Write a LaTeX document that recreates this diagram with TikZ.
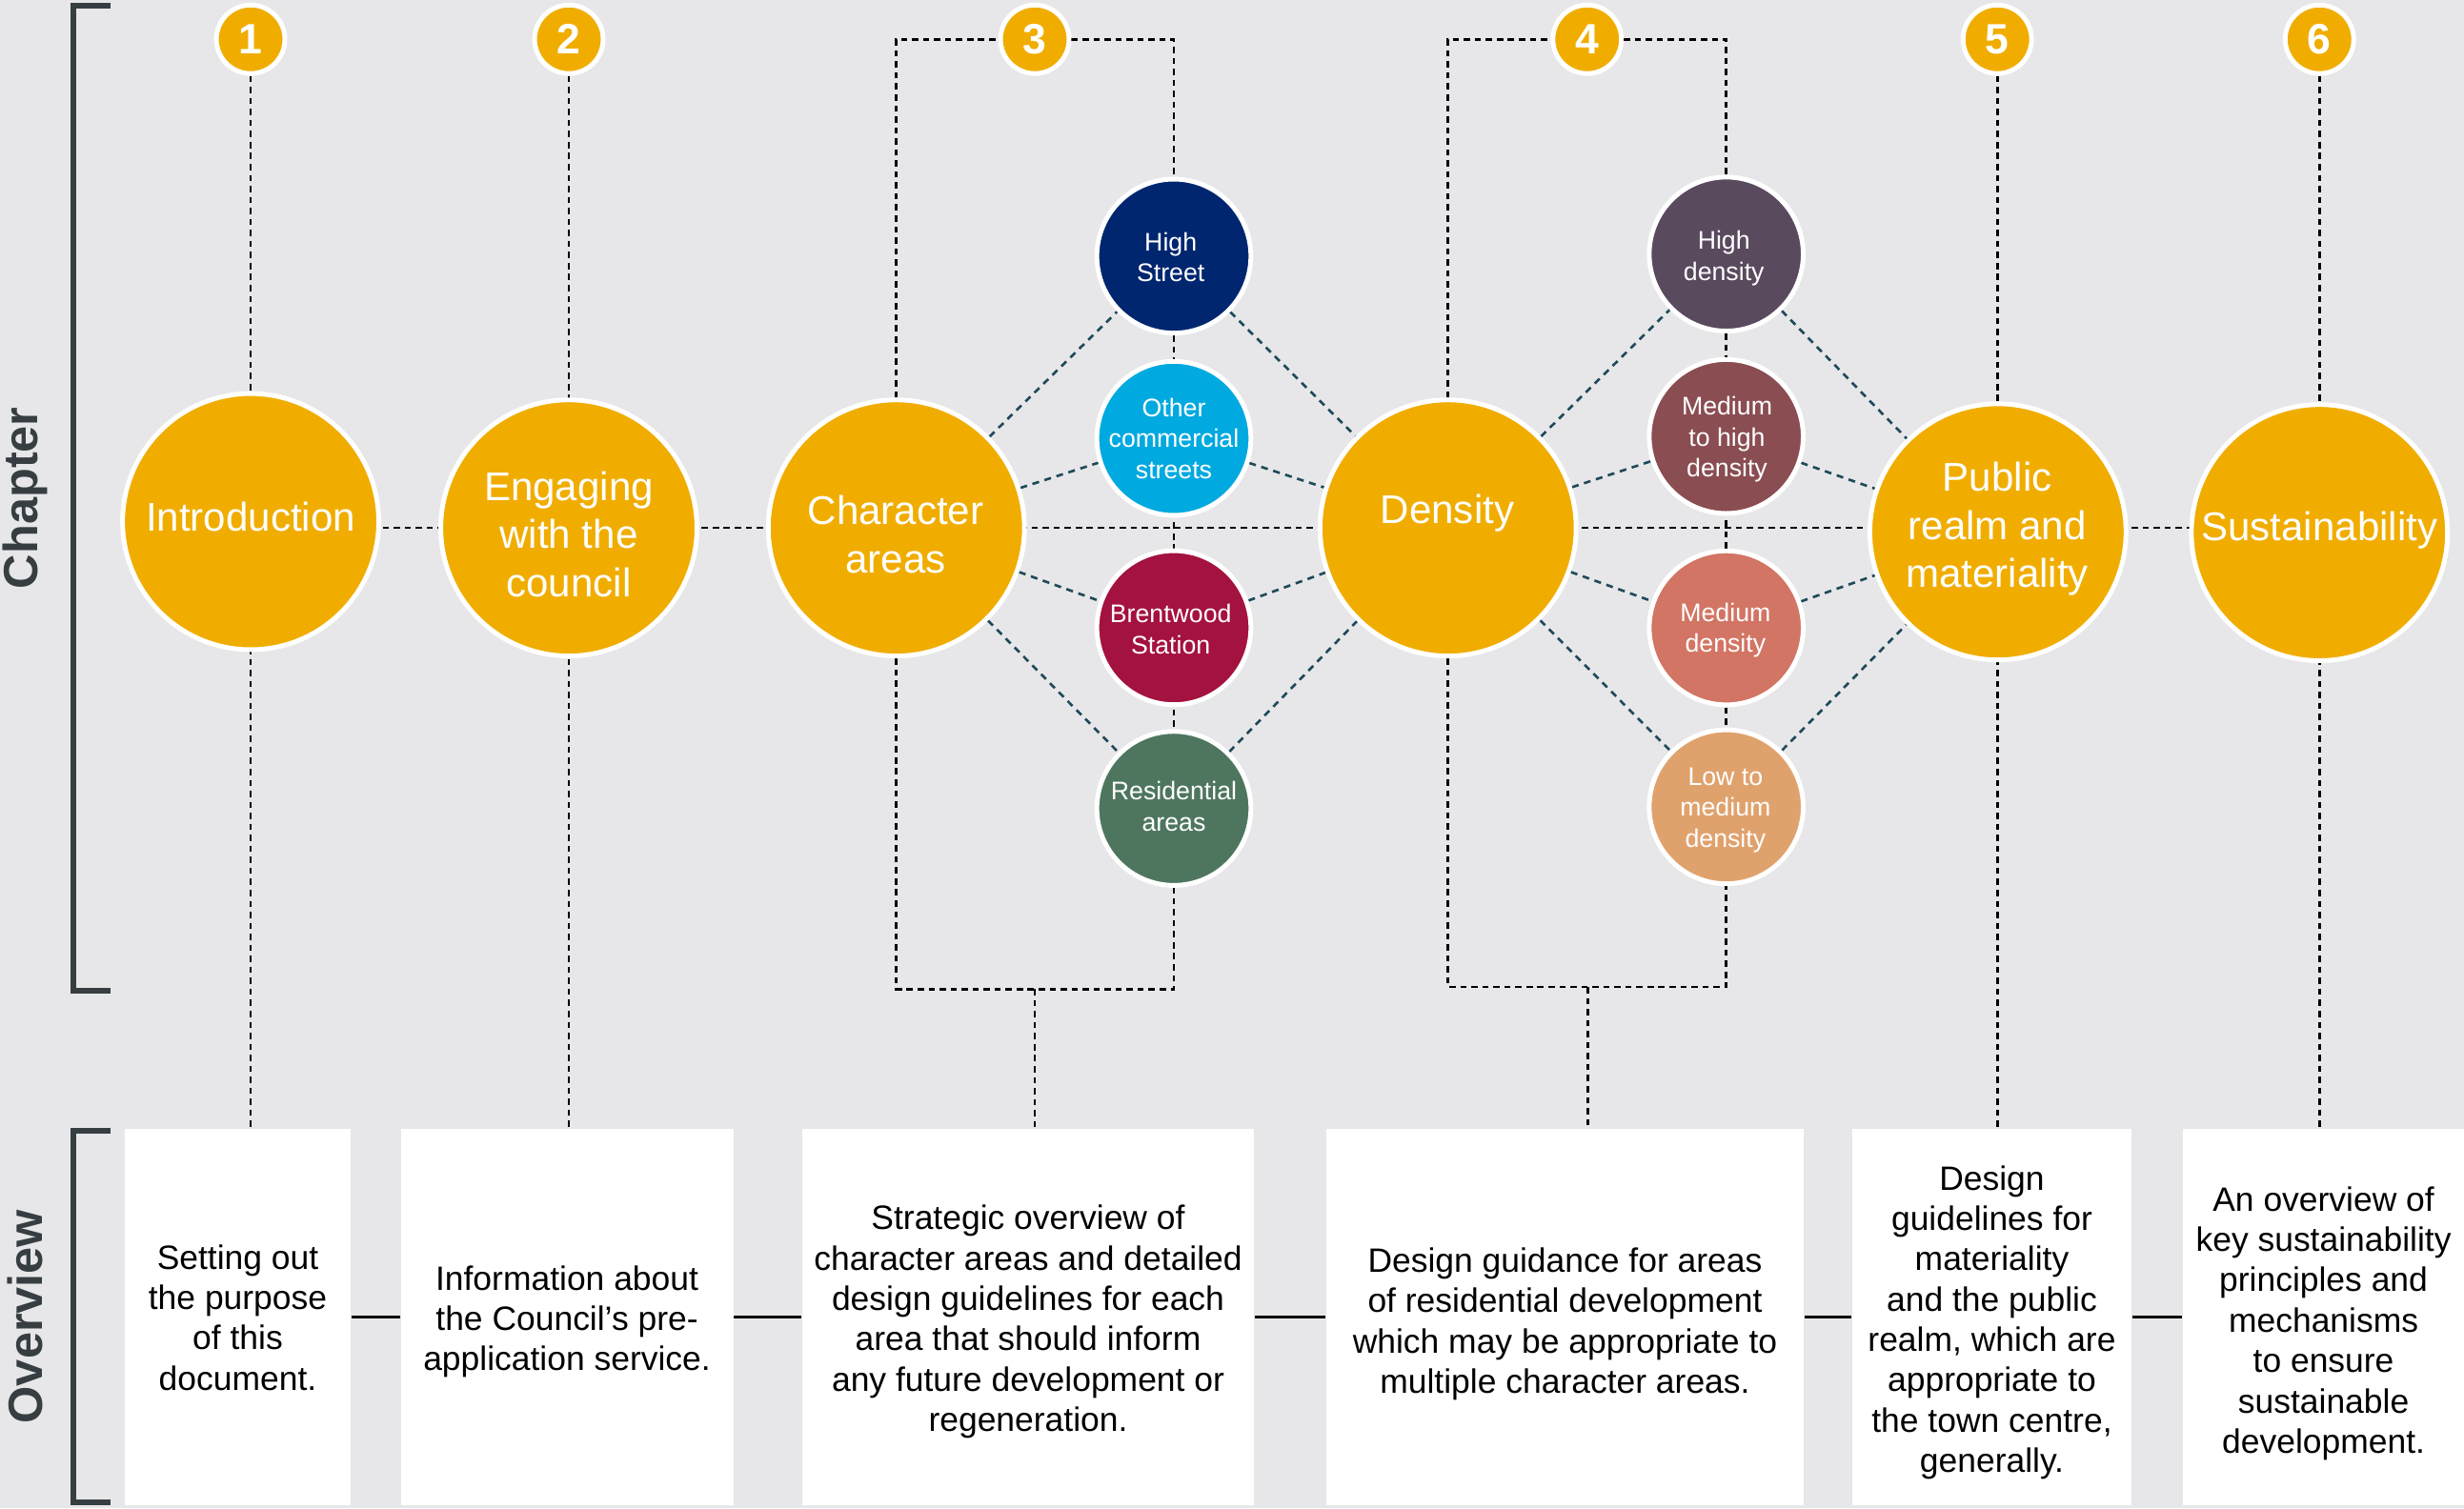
\documentclass[tikz,border=0pt]{standalone}
\usepackage{fontspec}
\setmainfont{Liberation Sans}
\definecolor{bgc}{HTML}{E7E7E9}
\definecolor{gold}{HTML}{F0AD00}
\definecolor{cHS}{HTML}{00266F}
\definecolor{cOC}{HTML}{00A9E0}
\definecolor{cBS}{HTML}{A4123F}
\definecolor{cRes}{HTML}{4E765F}
\definecolor{cHD}{HTML}{5A4A5E}
\definecolor{cMHD}{HTML}{8A4D52}
\definecolor{cMD}{HTML}{D27564}
\definecolor{cLMD}{HTML}{E0A26D}
\definecolor{cLink}{HTML}{1F4A5A}
\definecolor{cBrk}{HTML}{373E42}
\pgfdeclarelayer{bglayer}
\pgfdeclarelayer{linelayer}
\pgfsetlayers{bglayer,linelayer,main}
\begin{document}
\begin{tikzpicture}[x=0.5pt,y=-0.5pt,
  bigc/.style={circle, fill=gold, draw=white, line width=1.5pt, minimum size=81.5pt, inner sep=0pt},
  smc/.style={circle, draw=white, line width=1.5pt, minimum size=49pt, inner sep=0pt},
  numc/.style={circle, fill=gold, draw=white, line width=1.5pt, minimum size=21.8pt, inner sep=0pt, text=white, font=\bfseries\fontsize{13.5}{14}\selectfont},
  bigt/.style={text=white, align=center, font=\fontsize{12.75}{15.25}\selectfont, inner sep=0pt, text depth=0pt},
  smt/.style={text=white, align=center, font=\fontsize{8.1}{9.9}\selectfont, inner sep=0pt, text depth=0pt},
  obox/.style={fill=white, draw=none, inner sep=0pt, minimum height=119.75pt},
  boxt/.style={align=center, text=black, font=\fontsize{10.75}{12.85}\selectfont, inner sep=0pt, text depth=0pt},
  bd/.style={black, line width=0.8pt, dash pattern=on 2pt off 1.5pt},
  ld/.style={cLink, line width=0.8pt, dash pattern=on 2.2pt off 1.8pt},
  brk/.style={cBrk, line width=1.8pt},
  side/.style={rotate=90, text=cBrk, font=\bfseries\fontsize{15.3}{16}\selectfont, inner sep=0pt}]
\useasboundingbox (0,0) rectangle (1568,960);
\begin{pgfonlayer}{bglayer}
\fill[bgc] (0,0) rectangle (1568,960);
\end{pgfonlayer}

% side labels and brackets
\draw[brk] (70.5,3.5) -- (46.5,3.5) -- (46.5,630.5) -- (70.5,630.5);
\draw[brk] (70.5,719.5) -- (46.5,719.5) -- (46.5,956) -- (70.5,956);
\node[side] (chap) at (16,317) {Chapter};
\node[side] (over) at (16,838) {Overview};

% number circles
\node[numc] (n1) at (159.5,25) {1};
\node[numc] (n2) at (362,25) {2};
\node[numc] (n3) at (658.5,25) {3};
\node[numc] (n4) at (1010,25) {4};
\node[numc] (n5) at (1271,25) {5};
\node[numc] (n6) at (1476,25) {6};

% main circles
\node[bigc] (intro) at (159.5,332) {};
\node[bigc] (eng) at (362,336) {};
\node[bigc] (char) at (570.4,336) {};
\node[bigc] (dens) at (921.5,336) {};
\node[bigc] (pub) at (1271.4,338.5) {};
\node[bigc] (sust) at (1476,339) {};
\node[bigt] (introt) at (159.5,329) {Introduction};
\node[bigt] (engt) at (362,340) {Engaging\\with the\\council};
\node[bigt] (chart) at (570,340) {Character\\areas};
\node[bigt] (denst) at (921,324) {Density};
\node[bigt] (pubt) at (1271,334) {Public\\realm and\\materiality};
\node[bigt] (sustt) at (1476,335) {Sustainability};

% small circles
\node[smc, fill=cHS] (hs) at (747,163) {};
\node[smc, fill=cOC] (oc) at (747,279) {};
\node[smc, fill=cBS] (bs) at (747,399.5) {};
\node[smc, fill=cRes] (res) at (747,514.5) {};
\node[smc, fill=cHD] (hd) at (1098.5,161.7) {};
\node[smc, fill=cMHD] (mhd) at (1098.5,277.8) {};
\node[smc, fill=cMD] (md) at (1098.5,399.6) {};
\node[smc, fill=cLMD] (lmd) at (1098.5,513.5) {};
\node[smt] (hst) at (745,163.5) {High\\Street};
\node[smt] (oct) at (747,279) {Other\\commercial\\streets};
\node[smt] (bst) at (745,400.5) {Brentwood\\Station};
\node[smt] (rest) at (747,513) {Residential\\areas};
\node[smt] (hdt) at (1097,162.5) {High\\density};
\node[smt] (mhdt) at (1099,278) {Medium\\to high\\density};
\node[smt] (mdt) at (1098,399.5) {Medium\\density};
\node[smt] (lmdt) at (1098,514) {Low to\\medium\\density};

% overview boxes
\node[obox, minimum width=71.9pt] (box1) at (151.3,838.25) {};
\node[obox, minimum width=105.8pt] (box2) at (360.8,838.25) {};
\node[obox, minimum width=143.95pt] (box3) at (654.25,838.25) {};
\node[obox, minimum width=151.9pt] (box4) at (995.9,838.25) {};
\node[obox, minimum width=88.75pt] (box5) at (1267.55,838.25) {};
\node[obox, minimum width=89.4pt] (box6) at (1478.6,838.25) {};
\node[boxt] (box1t) at (151.3,838.5) {Setting out\\the purpose\\of this\\document.};
\node[boxt] (box2t) at (360.8,839) {Information about\\the Council’s pre-\\application service.};
\node[boxt] (box3t) at (654.25,839) {Strategic overview of\\character areas and detailed\\design guidelines for each\\area that should inform\\any future development or\\regeneration.};
\node[boxt] (box4t) at (995.9,840.5) {Design guidance for areas\\of residential development\\which may be appropriate to\\multiple character areas.};
\node[boxt] (box5t) at (1267.55,839.5) {Design\\guidelines for\\materiality\\and the public\\realm, which are\\appropriate to\\the town centre,\\generally.};
\node[boxt] (box6t) at (1478.6,840) {An overview of\\key sustainability\\principles and\\mechanisms\\to ensure\\sustainable\\development.};

\draw[black, line width=1pt] (box1.east) -- (box2.west);
\draw[black, line width=1pt] (box2.east) -- (box3.west);
\draw[black, line width=1pt] (box3.east) -- (box4.west);
\draw[black, line width=1pt] (box4.east) -- (box5.west);
\draw[black, line width=1pt] (box5.east) -- (box6.west);

\coordinate (b3) at (658.5,629.5);
\coordinate (b4) at (1010.5,628.2);

\begin{pgfonlayer}{linelayer}
\draw[bd] (intro.center |- dens.center) -- (sust.center |- dens.center);
\draw[bd] (n1) -- (n1 |- box1.north);
\draw[bd] (n2) -- (n2 |- box2.north);
\draw[bd] (n5) -- (n5 |- box5.north);
\draw[bd] (n6) -- (n6 |- box6.north);
\draw[bd] (char) |- (n3) -| (hs);
\draw[bd] (hs) -- (res);
\draw[bd] (char) |- (b3) -| (res);
\draw[bd] (b3) -- (b3 |- box3.north);
\draw[bd] (dens) |- (n4) -| (hd);
\draw[bd] (hd) -- (lmd);
\draw[bd] (dens) |- (b4) -| (lmd);
\draw[bd] (b4) -- (b4 |- box4.north);
\foreach \s in {hs,oc,bs,res} {
  \draw[ld] (char) -- (\s);
  \draw[ld] (\s) -- (dens);
}
\foreach \s in {hd,mhd,md,lmd} {
  \draw[ld] (dens) -- (\s);
  \draw[ld] (\s) -- (pub);
}
\end{pgfonlayer}
\end{tikzpicture}
\end{document}
